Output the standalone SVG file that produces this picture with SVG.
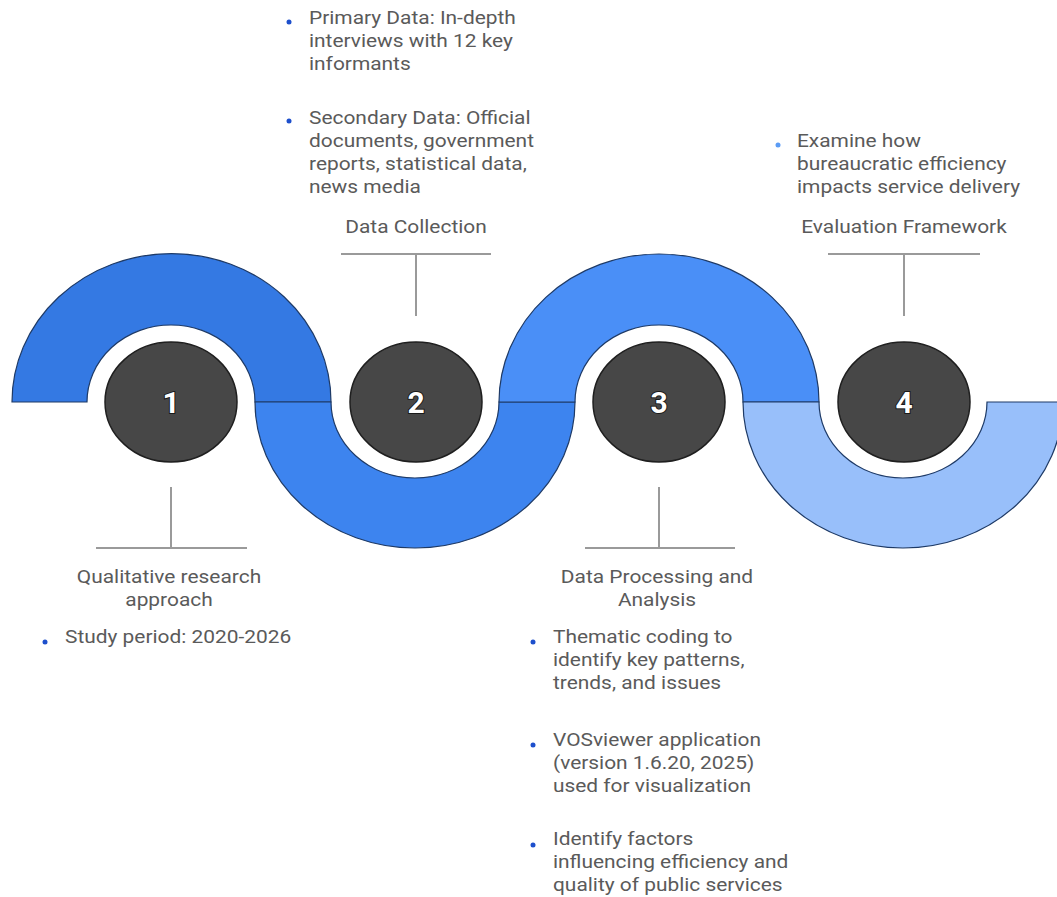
<svg xmlns="http://www.w3.org/2000/svg" width="1057" height="897" viewBox="0 0 1057 897">
<style>
.t{font-family:Roboto,"Liberation Sans",sans-serif;font-size:19px;fill:#5a5a5a}
.c{text-anchor:middle}
.num{font-family:Roboto,"Liberation Sans",sans-serif;font-size:30px;font-weight:bold;fill:#ffffff;stroke:#1a1a1a;stroke-width:2;paint-order:stroke;text-anchor:middle}
.circ{fill:#474747;stroke:#1f1f1f;stroke-width:1.5}
.ln{stroke:#9a9a9a;stroke-width:2;fill:none}
.arc{stroke:#1e3a66;stroke-width:1.2}
.dot{fill:#1d4fcc}
</style>
<rect width="1057" height="897" fill="#ffffff"/>
<g id="wave">
<path class="arc" fill="#3479e3" d="M 12 402 A 159 148 0 0 1 331 402 L 255 402 A 84 77 0 0 0 87 402 Z"/>
<path class="arc" fill="#3d84ef" d="M 255 402 A 160 146 0 0 0 575 402 L 499 402 A 84 76 0 0 1 331 402 Z"/>
<path class="arc" fill="#4a8ff7" d="M 499 402 A 160 148 0 0 1 819 402 L 743 402 A 84 77 0 0 0 575 402 Z"/>
<path class="arc" fill="#98bffa" d="M 743 402 A 160 146 0 0 0 1063 402 L 987 402 A 84 76 0 0 1 819 402 Z"/>
</g>
<g id="connectors">
<path class="ln" d="M171 487 V548 M96 548 H247"/>
<path class="ln" d="M416 316 V254 M341 254 H491"/>
<path class="ln" d="M659 487 V548 M585 548 H735"/>
<path class="ln" d="M904 316 V254 M828 254 H980"/>
</g>
<g id="step1">
<ellipse class="circ" cx="171" cy="402" rx="66" ry="60"/>
<text class="num" x="171" y="413">1</text>
<g transform="matrix(1.1 0 0 1 -16.9 0)">
<text class="t c" x="169" y="583">Qualitative research</text>
<text class="t c" x="169" y="606">approach</text>
</g>
<circle class="dot" cx="45" cy="642" r="2.5"/>
<g transform="matrix(1.1 0 0 1 -6.5 0)">
<text class="t" x="65" y="643">Study period: 2020-2026</text>
</g>
</g>
<g id="step2">
<ellipse class="circ" cx="416" cy="402" rx="66" ry="60"/>
<text class="num" x="416" y="413">2</text>
<g transform="matrix(1.1 0 0 1 -41.6 0)">
<text class="t c" x="416" y="233">Data Collection</text>
</g>
<circle class="dot" cx="289" cy="22" r="2.5"/>
<circle class="dot" cx="289" cy="121" r="2.5"/>
<g transform="matrix(1.1 0 0 1 -30.9 0)">
<text class="t" x="309" y="24">Primary Data: In-depth</text>
<text class="t" x="309" y="47">interviews with 12 key</text>
<text class="t" x="309" y="70">informants</text>
<text class="t" x="309" y="124">Secondary Data: Official</text>
<text class="t" x="309" y="147">documents, government</text>
<text class="t" x="309" y="170">reports, statistical data,</text>
<text class="t" x="309" y="193">news media</text>
</g>
</g>
<g id="step3">
<ellipse class="circ" cx="659" cy="402" rx="66" ry="60"/>
<text class="num" x="659" y="413">3</text>
<g transform="matrix(1.1 0 0 1 -65.7 0)">
<text class="t c" x="657" y="583">Data Processing and</text>
<text class="t c" x="657" y="606">Analysis</text>
</g>
<circle class="dot" cx="533" cy="642" r="2.5"/>
<circle class="dot" cx="533" cy="745" r="2.5"/>
<circle class="dot" cx="533" cy="845" r="2.5"/>
<g transform="matrix(1.1 0 0 1 -55.3 0)">
<text class="t" x="553" y="643">Thematic coding to</text>
<text class="t" x="553" y="666">identify key patterns,</text>
<text class="t" x="553" y="689">trends, and issues</text>
<text class="t" x="553" y="746">VOSviewer application</text>
<text class="t" x="553" y="769">(version 1.6.20, 2025)</text>
<text class="t" x="553" y="792">used for visualization</text>
<text class="t" x="553" y="845">Identify factors</text>
<text class="t" x="553" y="868">influencing efficiency and</text>
<text class="t" x="553" y="891">quality of public services</text>
</g>
</g>
<g id="step4">
<ellipse class="circ" cx="904" cy="402" rx="66" ry="60"/>
<text class="num" x="904" y="413">4</text>
<g transform="matrix(1.1 0 0 1 -90.4 0)">
<text class="t c" x="904" y="233">Evaluation Framework</text>
</g>
<circle cx="778" cy="145" r="2.5" fill="#5b9cf5"/>
<g transform="matrix(1.1 0 0 1 -79.7 0)">
<text class="t" x="797" y="147">Examine how</text>
<text class="t" x="797" y="170">bureaucratic efficiency</text>
<text class="t" x="797" y="193">impacts service delivery</text>
</g>
</g>
</svg>
